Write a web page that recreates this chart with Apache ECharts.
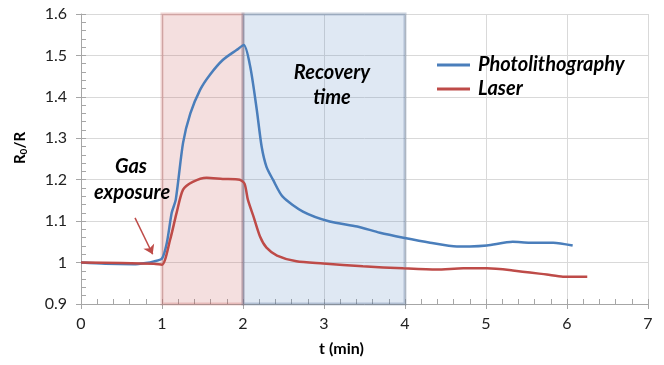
<!DOCTYPE html>
<html>
<head>
<meta charset="utf-8">
<script src="https://cdn.jsdelivr.net/npm/echarts@6/dist/echarts.min.js"></script>
<style>
  html, body { margin: 0; padding: 0; background: #fff; }
  #main { width: 664px; height: 365px; }
</style>
</head>
<body>
<div id="main"></div>
<script>
// time (min) / R0/R readings
var photoT = [0, 0.3, 0.65, 0.8, 0.9, 1.0, 1.06, 1.12, 1.17, 1.26, 1.35, 1.47, 1.59, 1.75, 1.92, 2.01,
  2.09, 2.17, 2.23, 2.29, 2.37, 2.49, 2.74, 3.07, 3.41, 3.69, 3.98, 4.31, 4.64, 4.8, 5.01, 5.33, 5.54, 5.83, 6.07];
var photoR = [1.0, 0.997, 0.996, 0.999, 1.003, 1.01, 1.048, 1.12, 1.152, 1.289, 1.36, 1.417, 1.453, 1.489, 1.513, 1.525,
  1.472, 1.369, 1.28, 1.231, 1.2, 1.159, 1.123, 1.099, 1.087, 1.072, 1.06, 1.048, 1.039, 1.039, 1.041, 1.05, 1.048, 1.048, 1.041];
var laserT = [0, 0.5, 0.9, 1.0, 1.1, 1.18, 1.26, 1.38, 1.55, 1.75, 1.96, 2.02, 2.06, 2.13, 2.21, 2.29, 2.42, 2.66,
  2.99, 3.48, 3.98, 4.39, 4.72, 5.01, 5.33, 5.75, 5.95, 6.25];
var laserR = [1.0, 0.999, 0.997, 0.995, 1.055, 1.12, 1.176, 1.195, 1.205, 1.202, 1.2, 1.19, 1.152, 1.111, 1.063, 1.036, 1.017, 1.003,
  0.998, 0.991, 0.986, 0.983, 0.986, 0.986, 0.981, 0.971, 0.966, 0.966];
var seriesNames = ['Photolithography', 'Laser'];
var exposureSpan = [1, 2];
var recoverySpan = [2, 4];
var arrowFrom = [0.667, 1.108];
var arrowTo = [0.885, 1.02];

function pairs(xs, ys) {
  return xs.map(function (x, i) { return [x, ys[i]]; });
}

var chart = echarts.init(document.getElementById('main'));
var font = 'Lato, "Open Sans", sans-serif';
var noteFont = 'italic bold 20px ' + font;
var gridColor = '#d9d9d9';

function note(text, x, y) {
  return {
    type: 'text', z: 100, x: x, y: y,
    style: { text: text, font: noteFont, fill: '#000', align: 'center', verticalAlign: 'middle' }
  };
}

var option = {
  animation: false,
  textStyle: { fontFamily: font },
  grid: { left: 81, right: 16, top: 14, bottom: 61 },
  legend: {
    left: 432, top: 50, orient: 'vertical', itemGap: 4,
    itemWidth: 33, itemHeight: 3, icon: 'rect',
    textStyle: { fontSize: 20, fontWeight: 'bold', fontStyle: 'italic', color: '#000', fontFamily: font, padding: [0, 0, 0, 3] },
    data: seriesNames
  },
  xAxis: [{
    type: 'value', min: 0, max: 7, interval: 1,
    name: 't (min)', nameLocation: 'middle', nameGap: 37,
    nameTextStyle: { fontSize: 16, fontWeight: 'bold', color: '#000', padding: [0, 46, 0, 0] },
    axisLine: { show: true, lineStyle: { color: '#a6a6a6' } },
    axisTick: { show: true, length: 5, lineStyle: { color: '#a6a6a6' } },
    axisLabel: { fontSize: 16, color: '#222', margin: 12 },
    splitLine: { show: true, lineStyle: { color: gridColor } }
  }, {
    type: 'value', min: 0, max: 7, interval: 0.2, position: 'bottom',
    axisLine: { show: false },
    axisTick: { show: true, inside: true, length: 5, lineStyle: { color: '#a6a6a6' } },
    axisLabel: { show: false },
    splitLine: { show: false }
  }],
  yAxis: [{
    type: 'value', min: 0.9, max: 1.6, interval: 0.1,
    name: 'R{sub|0}/R', nameLocation: 'middle', nameGap: 52,
    nameTextStyle: {
      fontSize: 15, fontWeight: 'bold', color: '#000', padding: [0, 0, 0, 22],
      rich: { sub: { fontSize: 10, fontWeight: 'bold', verticalAlign: 'bottom', padding: [8, 0, 0, 0] } }
    },
    axisLine: { show: true, lineStyle: { color: '#a6a6a6' } },
    axisTick: { show: true, length: 5, lineStyle: { color: '#a6a6a6' } },
    axisLabel: {
      fontSize: 16, color: '#222', margin: 14,
      formatter: function (v) { return String(Math.round(v * 10) / 10); }
    },
    splitLine: { show: true, lineStyle: { color: gridColor } }
  }, {
    type: 'value', min: 0.9, max: 1.6, interval: 0.02, position: 'left',
    axisLine: { show: false },
    axisTick: { show: true, inside: true, length: 5, lineStyle: { color: '#a6a6a6' } },
    axisLabel: { show: false },
    splitLine: { show: false }
  }],
  graphic: [
    note('Recovery', 332, 73),
    note('time', 332, 98),
    note('Gas', 131, 167),
    note('exposure', 132, 193)
  ],
  series: [{
    name: seriesNames[0], type: 'line', showSymbol: false, z: 3,
    smooth: 0.25,
    data: pairs(photoT, photoR),
    lineStyle: { color: '#4a7ebb', width: 2.5 },
    itemStyle: { color: '#4a7ebb' },
    markArea: {
      silent: true,
      data: [
        [{ xAxis: exposureSpan[0], itemStyle: { color: 'rgba(192,80,77,0.18)', borderColor: 'rgba(192,80,77,0.25)', borderWidth: 3 } },
         { xAxis: exposureSpan[1] }],
        [{ xAxis: recoverySpan[0], itemStyle: { color: 'rgba(79,129,189,0.18)', borderColor: 'rgba(60,90,130,0.28)', borderWidth: 3 } },
         { xAxis: recoverySpan[1] }]
      ]
    }
  }, {
    name: seriesNames[1], type: 'line', showSymbol: false, z: 4,
    smooth: 0.25,
    data: pairs(laserT, laserR),
    lineStyle: { color: '#be4b48', width: 2.5 },
    itemStyle: { color: '#be4b48' },
    markLine: {
      silent: true,
      symbol: ['none', 'arrow'], symbolSize: 9,
      lineStyle: { color: '#be4b48', width: 1.5, type: 'solid' },
      label: { show: false },
      data: [[{ coord: arrowFrom }, { coord: arrowTo }]]
    }
  }]
};
chart.setOption(option);
</script>
</body>
</html>
